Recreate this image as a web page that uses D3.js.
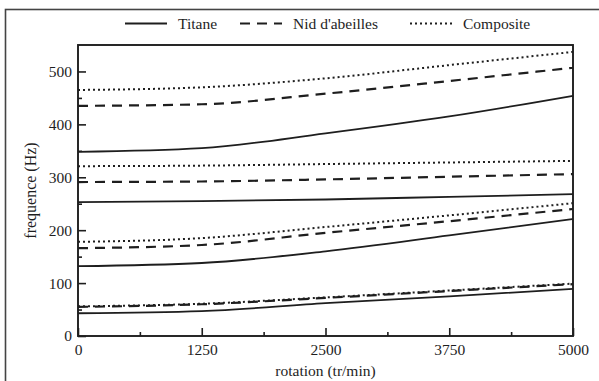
<!DOCTYPE html>
<html>
<head>
<meta charset="utf-8">
<script src="https://cdn.jsdelivr.net/npm/d3@7"></script>
<style>
  body { margin: 0; background: #fff; }
</style>
</head>
<body>
<div id="chart"></div>
<script>
// rotation speeds (tr/min)
const rpm = [0, 1250, 2500, 3750, 5000];

// frequencies (Hz) for each mode, one array per mode
const titane = [
    [43, 47, 62, 75, 89],
    [132, 138, 160, 190, 221],
    [253, 255, 258, 263, 268],
    [348, 355, 383, 415, 454]
];
const nidAbeilles = [
    [55, 60, 72, 85, 98],
    [166, 172, 195, 217, 240],
    [291, 292, 296, 301, 306],
    [435, 438, 458, 482, 507]
];
const composite = [
    [56, 61, 73, 86, 99],
    [178, 185, 206, 228, 251],
    [321, 322, 325, 328, 331],
    [465, 470, 487, 512, 537]
];

const xTicks = [0, 1250, 2500, 3750, 5000];
const xMinor = [625, 1875, 3125, 4375];
const yTicks = [0, 100, 200, 300, 400, 500];
const yMinor = [50, 150, 250, 350, 450];

const legendNames = ["Titane", "Nid d'abeilles", "Composite"];

const FONT = "'Liberation Serif', 'DejaVu Serif', 'Times New Roman', serif";
const INK = "#1e1e1e";

const W = 599, H = 381;
const margin = { top: 45, right: 26, bottom: 45, left: 78 };
const width = W - margin.left - margin.right,
    height = H - margin.top - margin.bottom;

const root = d3.select("#chart").append("svg")
    .attr("width", W)
    .attr("height", H)
    .style("font-family", FONT);

// outer frame (cropped at right and bottom in the original)
root.append("rect")
    .attr("x", 5.5).attr("y", 9.5)
    .attr("width", 640).attr("height", 420)
    .attr("fill", "none")
    .attr("stroke", "#444")
    .attr("stroke-width", 1.6);

const svg = root.append("g")
    .attr("transform", "translate(" + margin.left + "," + margin.top + ")");

const x = d3.scaleLinear().domain([0, 5000]).range([0, width]);
const y = d3.scaleLinear().domain([0, 550]).range([height, 0]);

// plot box
svg.append("rect")
    .attr("width", width).attr("height", height)
    .attr("fill", "none")
    .attr("stroke", INK)
    .attr("stroke-width", 1.9);

function styleTicks(g) {
    g.select(".domain").remove();
    g.selectAll(".tick line").attr("stroke", INK).attr("stroke-width", 1.6);
    g.selectAll(".tick text")
        .attr("font-size", 15.5)
        .attr("fill", INK)
        .attr("font-family", FONT);
}

// x axis ticks (pointing inward)
svg.append("g")
    .attr("transform", "translate(0," + height + ")")
    .call(d3.axisBottom(x).tickValues(xTicks).tickSize(-8).tickPadding(8).tickFormat(d3.format("d")))
    .call(styleTicks);

svg.append("g")
    .attr("transform", "translate(0," + height + ")")
    .call(d3.axisBottom(x).tickValues(xMinor).tickSize(-4).tickFormat(""))
    .call(styleTicks);

// y axis ticks (pointing inward)
svg.append("g")
    .call(d3.axisLeft(y).tickValues(yTicks).tickSize(-8).tickPadding(6))
    .call(styleTicks);

svg.append("g")
    .call(d3.axisLeft(y).tickValues(yMinor).tickSize(-4).tickFormat(""))
    .call(styleTicks);

// axis titles
svg.append("text")
    .attr("x", width / 2)
    .attr("y", height + 40)
    .attr("text-anchor", "middle")
    .attr("font-size", 15.5)
    .attr("fill", INK)
    .text("rotation (tr/min)");

svg.append("text")
    .attr("transform", "translate(-42," + (height / 2) + ") rotate(-90)")
    .attr("text-anchor", "middle")
    .attr("font-size", 16)
    .attr("fill", INK)
    .text("frequence (Hz)");

const line = d3.line()
    .x((d, i) => x(rpm[i]))
    .y(d => y(d))
    .curve(d3.curveMonotoneX);

const styles = [
    { data: titane, dash: null, w: 1.8 },
    { data: nidAbeilles, dash: "10,7", w: 2.2 },
    { data: composite, dash: "2,3", w: 2 }
];

styles.forEach(s => {
    svg.append("g")
        .selectAll("path")
        .data(s.data)
        .enter()
        .append("path")
        .attr("d", line)
        .attr("fill", "none")
        .attr("stroke", INK)
        .attr("stroke-width", s.w)
        .attr("stroke-dasharray", s.dash);
});

// legend
const legX = [125, 240, 410];
const leg = root.append("g");
legendNames.forEach((name, i) => {
    leg.append("line")
        .attr("x1", legX[i]).attr("x2", legX[i] + 42)
        .attr("y1", 23.5).attr("y2", 23.5)
        .attr("stroke", INK)
        .attr("stroke-width", styles[i].w)
        .attr("stroke-dasharray", styles[i].dash);
    leg.append("text")
        .attr("x", legX[i] + 53)
        .attr("y", 29)
        .attr("font-size", 15.5)
        .attr("fill", INK)
        .text(name);
});
</script>
</body>
</html>
